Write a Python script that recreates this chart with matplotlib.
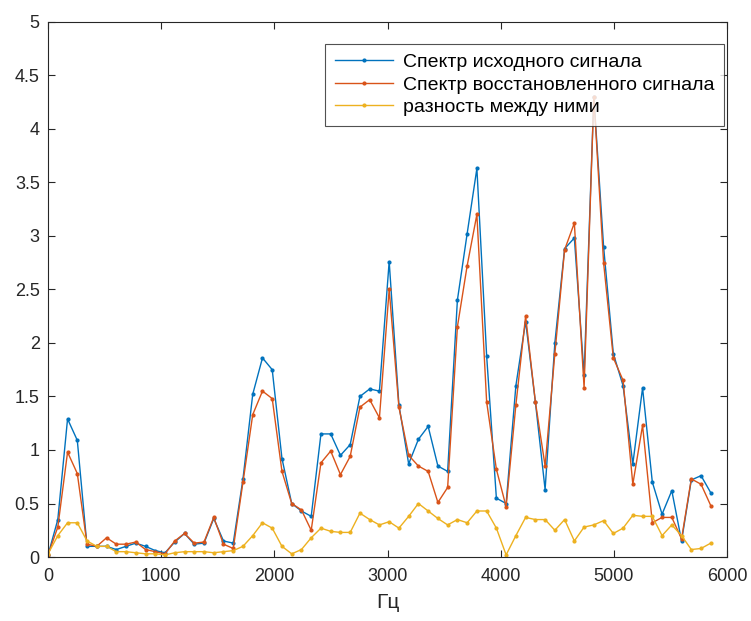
import numpy as np
import matplotlib
matplotlib.use('Agg')
import matplotlib.pyplot as plt

plt.rcParams['font.family'] = ['Liberation Sans', 'DejaVu Sans']

# frequency step of the spectrum bins (Hz)
df = 44100 / 512

# amplitudes
orig = [0.02, 0.35, 1.29, 1.09, 0.10, 0.10, 0.10, 0.07, 0.10, 0.13,
        0.10, 0.06, 0.04, 0.14, 0.22, 0.12, 0.13, 0.36, 0.15, 0.13,
        0.73, 1.52, 1.86, 1.75, 0.92, 0.50, 0.43, 0.38, 1.15, 1.15,
        0.95, 1.05, 1.50, 1.57, 1.55, 2.76, 1.42, 0.87, 1.10, 1.22,
        0.85, 0.80, 2.40, 3.02, 3.63, 1.88, 0.55, 0.50, 1.60, 2.20,
        1.45, 0.63, 2.00, 2.88, 2.98, 1.70, 4.30, 2.90, 1.90, 1.60,
        0.87, 1.58, 0.70, 0.40, 0.62, 0.15, 0.72, 0.76, 0.60]

restored = [0.02, 0.28, 0.98, 0.78, 0.12, 0.10, 0.18, 0.12, 0.12, 0.14,
            0.07, 0.05, 0.03, 0.15, 0.22, 0.13, 0.14, 0.37, 0.12, 0.08,
            0.70, 1.33, 1.55, 1.48, 0.80, 0.50, 0.44, 0.25, 0.88, 0.99,
            0.77, 0.94, 1.40, 1.47, 1.30, 2.50, 1.40, 0.95, 0.85, 0.80,
            0.51, 0.65, 2.15, 2.72, 3.20, 1.45, 0.82, 0.47, 1.42, 2.25,
            1.45, 0.85, 1.90, 2.87, 3.12, 1.58, 4.30, 2.75, 1.86, 1.65,
            0.68, 1.23, 0.32, 0.37, 0.37, 0.17, 0.73, 0.68, 0.48]

diff = [0.03, 0.20, 0.32, 0.32, 0.15, 0.10, 0.10, 0.05, 0.05, 0.04,
        0.03, 0.03, 0.02, 0.04, 0.05, 0.05, 0.05, 0.04, 0.05, 0.06,
        0.10, 0.20, 0.32, 0.27, 0.10, 0.03, 0.07, 0.18, 0.27, 0.24,
        0.23, 0.23, 0.41, 0.35, 0.30, 0.33, 0.27, 0.38, 0.50, 0.43,
        0.36, 0.30, 0.35, 0.32, 0.43, 0.43, 0.27, 0.02, 0.20, 0.37,
        0.35, 0.35, 0.25, 0.35, 0.15, 0.28, 0.30, 0.34, 0.22, 0.27,
        0.39, 0.38, 0.38, 0.20, 0.30, 0.20, 0.07, 0.08, 0.13]

freq = np.arange(len(orig)) * df

fig = plt.figure(figsize=(7.51, 6.21), dpi=100)
ax = fig.add_axes([0.064, 0.103, 0.904, 0.862])

ax.plot(freq, orig, marker='.', markersize=4, linewidth=1.0, color='#0072BD',
        label='Спектр исходного сигнала')
ax.plot(freq, restored, marker='.', markersize=4, linewidth=1.0, color='#D95319',
        label='Спектр восстановленного сигнала')
ax.plot(freq, diff, marker='.', markersize=4, linewidth=1.0, color='#EDB120',
        label='разность между ними')

ax.set_xlim(0, 6000)
ax.set_ylim(0, 5)
ax.set_xticks(np.arange(0, 6001, 1000))
ax.set_yticks(np.arange(0, 5.01, 0.5))
ax.set_yticklabels(['0', '0.5', '1', '1.5', '2', '2.5', '3', '3.5', '4', '4.5', '5'])

for s in ax.spines.values():
    s.set_color('#262626')
    s.set_linewidth(0.8)
ax.tick_params(direction='in', top=True, right=True, length=5, width=0.8,
               colors='#262626', labelsize=13)
ax.tick_params(axis='x', pad=8)
ax.tick_params(axis='y', pad=6)
ax.set_xlabel('Гц', fontsize=15, color='#262626', labelpad=6)

leg = ax.legend(loc='upper right', bbox_to_anchor=(0.9956, 0.9589),
                borderaxespad=0, fontsize=14, handlelength=3.0,
                handletextpad=0.5, frameon=True, fancybox=False,
                labelspacing=0.25, borderpad=0.5)
leg.get_frame().set_edgecolor('#262626')
leg.get_frame().set_linewidth(0.8)

fig.savefig('out.png', dpi=100)
